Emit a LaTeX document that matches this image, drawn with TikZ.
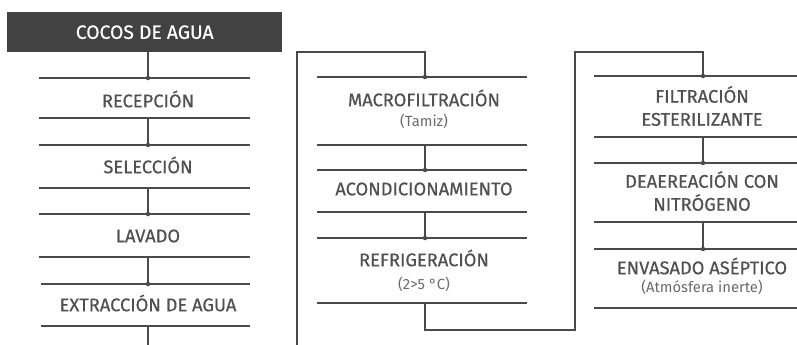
\documentclass[tikz,border=0pt]{standalone}
\usepackage{fontspec}
\setmainfont{Fira Sans}
\newfontfamily\medfont{Fira Sans}[FakeBold=0.5]
\definecolor{ln}{HTML}{4A4A4A}
\definecolor{tx}{HTML}{505050}
\definecolor{tsub}{HTML}{6A6A6A}
\definecolor{bx}{HTML}{424242}
\tikzset{
  rule/.style={draw=ln, line width=1.2pt},
  link/.style={draw=ln, line width=1.2pt},
  lbl/.style={text=tx, font=\medfont\fontsize{18.3}{23}\selectfont, align=center, inner sep=0pt},
  sublbl/.style={text=tsub, font=\fontsize{14.8}{17}\selectfont, inner sep=0pt},
  dotmark/.style={circle, fill=ln, inner sep=0pt, minimum size=4.5pt},
}
\begin{document}
\begin{tikzpicture}[x=1pt,y=-1pt]
\useasboundingbox (0,0) rectangle (797,345);
% header box
\node[fill=bx, minimum width=275pt, minimum height=40pt, inner sep=0pt, anchor=north west,
      text=white, font=\medfont\fontsize{19.3}{23}\selectfont] (cocos) at (7,12) {COCOS DE AGUA};

% ---------- column 1 ----------
\coordinate (c1a) at (148,78);
\node[dotmark] (d1) at (c1a) {};
\draw[rule] (39,78) -- (250,78);
\node[lbl] (recep) at (148,99) {RECEPCIÓN};
\coordinate (c1b) at (148,118);
\draw[rule] (39,118) -- (250,118);
\node[dotmark] (d2) at (148,145) {};
\draw[rule] (39,145) -- (250,145);
\node[lbl] (selec) at (148,165) {SELECCIÓN};
\coordinate (c1c) at (148,188);
\draw[rule] (39,188) -- (250,188);
\node[dotmark] (d3) at (148,214) {};
\draw[rule] (39,214) -- (250,214);
\node[lbl] (lavado) at (148,236) {LAVADO};
\coordinate (c1d) at (148,257);
\draw[rule] (39,257) -- (250,257);
\node[dotmark] (d4) at (148,284) {};
\draw[rule] (41,284) -- (250,284);
\node[lbl] (extra) at (148,303) {EXTRACCIÓN DE AGUA};
\coordinate (c1e) at (148,326);
\draw[rule] (41,326) -- (250,326);
\coordinate (c1end) at (148,345);

\draw[link] (cocos.south -| d1) -- (d1.center);
\draw[link] (c1b) -- (d2.center);
\draw[link] (c1c) -- (d3.center);
\draw[link] (c1d) -- (d4.center);
\draw[link] (c1e) -- (c1end);

% ---------- column 2 ----------
\coordinate (c2start) at (297,345);
\node[dotmark] (e1) at (425,77) {};
\draw[link] (c2start) -- (297,52) -| (e1.center);
\draw[rule] (317,77) -- (527,77);
\node[lbl] (macro) at (424,98) {MACROFILTRACIÓN};
\node[sublbl] (tamiz) at (424,121) {(Tamiz)};
\coordinate (c2b) at (425,145);
\draw[rule] (317,145) -- (527,145);
\node[dotmark] (e2) at (425,170) {};
\draw[rule] (317,170) -- (527,170);
\node[lbl] (acond) at (424,189) {ACONDICIONAMIENTO};
\coordinate (c2c) at (425,212);
\draw[rule] (317,212) -- (527,212);
\node[dotmark] (e3) at (425,238) {};
\draw[rule] (317,238) -- (527,238);
\node[lbl] (refri) at (424,258) {REFRIGERACIÓN};
\node[sublbl] (temp) at (424,284) {(2>5 °C)};
\coordinate (c2d) at (425,303);
\draw[rule, line width=1.8pt] (317,303) -- (527,303);

\draw[link] (c2b) -- (e2.center);
\draw[link] (c2c) -- (e3.center);

% ---------- column 3 ----------
\node[dotmark] (f1) at (703,76) {};
\draw[link] (c2d) -- (425,330) -| (575,52) -| (f1.center);
\draw[rule] (594,76) -- (797,76);
\node[lbl] (filt) at (702,106) {FILTRACIÓN\\ESTERILIZANTE};
\coordinate (c3b) at (703,137);
\draw[rule] (594,137) -- (797,137);
\node[dotmark] (f2) at (703,163) {};
\draw[rule] (594,163) -- (797,163);
\node[lbl] (deaer) at (702,191) {DEAEREACIÓN CON\\NITRÓGENO};
\coordinate (c3c) at (703,222);
\draw[rule] (594,222) -- (797,222);
\node[dotmark] (f3) at (703,249) {};
\draw[rule] (594,249) -- (797,249);
\node[lbl] (envas) at (702,266) {ENVASADO ASÉPTICO};
\node[sublbl] (atmos) at (702,287) {(Atmósfera inerte)};
\draw[rule] (594,308) -- (797,308);

\draw[link] (c3b) -- (f2.center);
\draw[link] (c3c) -- (f3.center);
\end{tikzpicture}
\end{document}
